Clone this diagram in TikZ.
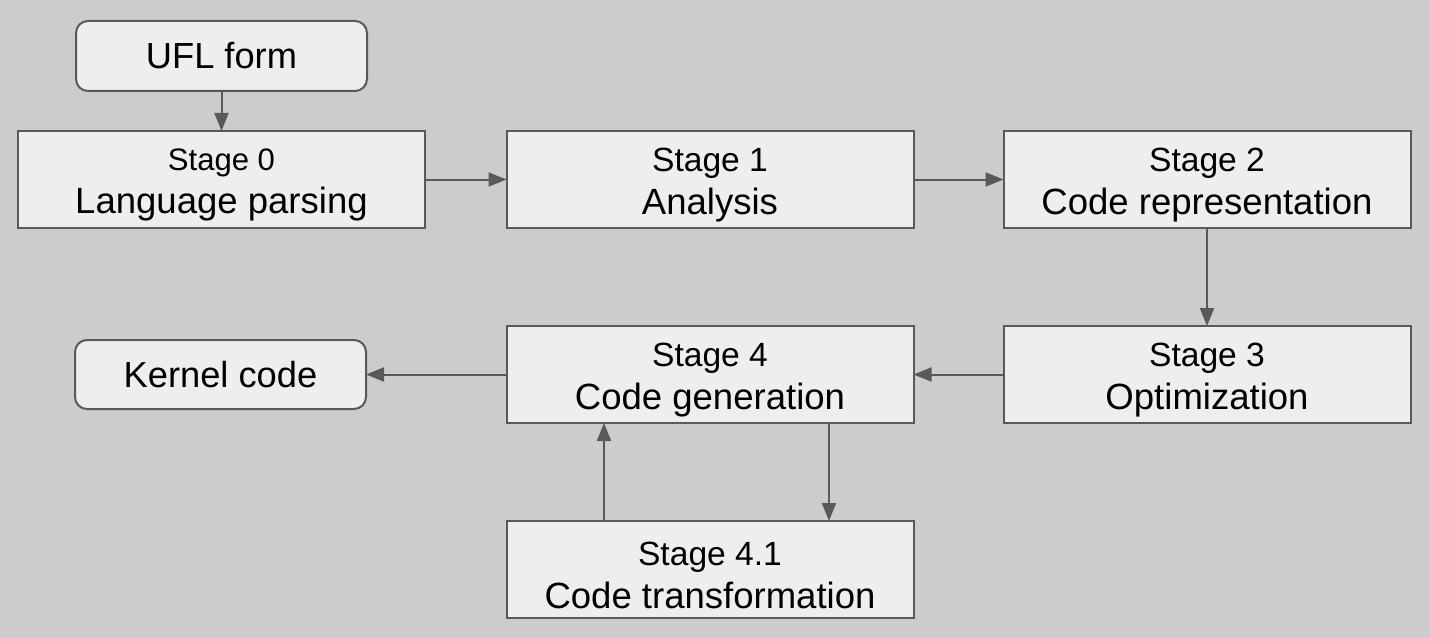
\documentclass[tikz,border=0pt]{standalone}
\usepackage{fontspec}
\setmainfont{Liberation Sans}
\usetikzlibrary{arrows.meta}
\definecolor{bgc}{HTML}{CCCCCC}
\definecolor{boxc}{HTML}{EEEEEE}
\definecolor{linec}{HTML}{595959}
\tikzset{
  stagebox/.style={draw=linec, fill=boxc, line width=1.5pt, minimum width=305.25pt, minimum height=72.75pt, inner sep=0pt, outer sep=0pt, align=center, font=\fontsize{27.4}{32.3}\selectfont},
  endbox/.style={draw=linec, fill=boxc, line width=1.5pt, rounded corners=9pt, minimum width=218.25pt, minimum height=52.5pt, inner sep=0pt, outer sep=0pt, align=center, font=\fontsize{27.2}{32}\selectfont},
  arr/.style={draw=linec, line width=1.5pt, -{Triangle[length=13.5pt,width=10.5pt]}},
}
\newcommand{\stg}[1]{{\fontsize{25.2}{30}\selectfont\rule{0pt}{25.9pt}#1}}
\begin{document}
\begin{tikzpicture}[x=0.75pt,y=-0.75pt]
\fill[bgc] (0,0) rectangle (1430,638);
\useasboundingbox (0,0) rectangle (1430,638);
\node[endbox] (ufl) at (221.5,56) {\raisebox{-1pt}{UFL form}};
\node[stagebox] (s0) at (221.5,179.5) {{\fontsize{23.3}{28}\selectfont\rule{0pt}{24.5pt}Stage 0}\\Language parsing};
\node[stagebox] (s1) at (710,179.5) {\stg{Stage 1}\\Analysis};
\node[stagebox] (s2) at (1207,179.5) {\stg{Stage 2}\\Code representation};
\node[stagebox] (s3) at (1207,374.5) {\stg{Stage 3}\\Optimization};
\node[stagebox] (s4) at (710,374.5) {\stg{Stage 4}\\Code generation};
\node[endbox, minimum height=51.75pt] (kc) at (220.5,374.5) {Kernel code};
\node[stagebox] (s41) at (710,569.5) {\stg{Stage 4.1}\\Code transformation};
\draw[arr] (ufl) -- (s0);
\draw[arr] (s0) -- (s1);
\draw[arr] (s1) -- (s2);
\draw[arr] (s2) -- (s3);
\draw[arr] (s3) -- (s4);
\draw[arr] (s4) -- (kc);
\draw[arr] ([xshift=-79.5pt]s41.north) -- ([xshift=-79.5pt]s4.south);
\draw[arr] ([xshift=89.25pt]s4.south) -- ([xshift=89.25pt]s41.north);
\end{tikzpicture}
\end{document}
